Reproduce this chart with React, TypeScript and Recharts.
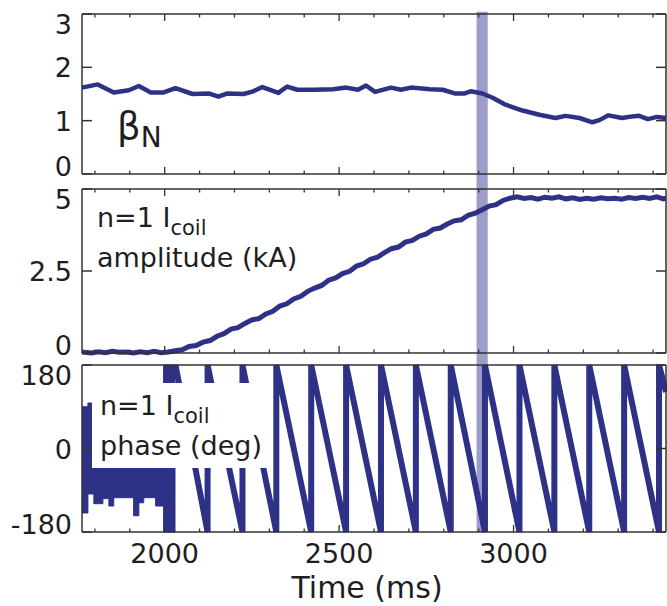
import React from 'react';
import { LineChart, ComposedChart, Line, Area, XAxis, YAxis, ReferenceArea } from 'recharts';

const W = 667;
const H = 606;
const MARGIN_LEFT = 81;
const MARGIN_RIGHT = 0;
const PLOT_RIGHT = W - MARGIN_RIGHT - 1;
const FONT = '"DejaVu Sans", sans-serif';
const LINE = '#2d3286';
const BAND = '#9d9dcb';
const FRAME = '#333333';
const TEXT = '#1e1e1e';

// shared time axis
const timeDomain: [number, number] = [1763, 3437];
const majorTimeTicks = [2000, 2500, 3000];
const timeTicks = [1800, 1900, 2000, 2100, 2200, 2300, 2400, 2500, 2600, 2700, 2800, 2900, 3000, 3100, 3200, 3300, 3400];
const bandStart = 2894;
const bandEnd = 2926;

// Panel 1: beta_N
const betaTicks = [0, 1, 2, 3];
const betaTimes = [1763, 1808, 1854, 1897, 1926, 1960, 1997, 2031, 2080, 2126, 2154, 2180, 2226, 2254, 2280, 2326, 2351, 2380, 2426, 2483, 2520, 2554, 2577, 2603, 2649, 2677, 2706, 2760, 2797, 2831, 2860, 2877, 2911, 2940, 2977, 3026, 3074, 3120, 3149, 3189, 3226, 3246, 3272, 3311, 3340, 3360, 3385, 3411, 3437];
const betaValues = [1.62, 1.68, 1.53, 1.57, 1.65, 1.53, 1.53, 1.61, 1.50, 1.51, 1.45, 1.51, 1.50, 1.55, 1.63, 1.52, 1.64, 1.58, 1.58, 1.59, 1.62, 1.58, 1.66, 1.54, 1.62, 1.58, 1.62, 1.59, 1.58, 1.51, 1.51, 1.55, 1.51, 1.43, 1.30, 1.19, 1.11, 1.05, 1.09, 1.05, 0.97, 1.01, 1.10, 1.05, 1.08, 1.09, 1.03, 1.07, 1.05];

// Panel 2: n=1 Icoil amplitude (kA)
const ampTicks = [0, 2.5, 5];
const ampTimes = [1763, 1770, 1790, 1810, 1830, 1850, 1870, 1890, 1910, 1930, 1950, 1970, 1990, 2010, 2030, 2050, 2070, 2090, 2110, 2130, 2150, 2170, 2190, 2210, 2230, 2250, 2270, 2290, 2310, 2330, 2350, 2370, 2390, 2410, 2430, 2450, 2470, 2490, 2510, 2530, 2550, 2570, 2590, 2610, 2630, 2650, 2670, 2690, 2710, 2730, 2750, 2770, 2790, 2810, 2830, 2850, 2870, 2890, 2910, 2930, 2950, 2970, 2990, 3010, 3030, 3050, 3070, 3090, 3110, 3130, 3150, 3170, 3190, 3210, 3230, 3250, 3270, 3290, 3310, 3330, 3350, 3370, 3390, 3410, 3430, 3437];
const ampValues = [0.03, 0.02, 0.00, 0.04, 0.01, 0.05, 0.02, 0.03, 0.00, 0.04, 0.01, 0.05, 0.01, 0.03, 0.07, 0.10, 0.20, 0.23, 0.33, 0.38, 0.51, 0.59, 0.73, 0.77, 0.90, 1.01, 1.05, 1.19, 1.27, 1.43, 1.50, 1.65, 1.73, 1.88, 1.98, 2.06, 2.22, 2.29, 2.42, 2.49, 2.65, 2.72, 2.86, 2.92, 3.06, 3.18, 3.23, 3.38, 3.43, 3.56, 3.63, 3.77, 3.81, 3.93, 4.03, 4.06, 4.20, 4.26, 4.37, 4.48, 4.52, 4.65, 4.72, 4.76, 4.71, 4.74, 4.69, 4.75, 4.72, 4.76, 4.70, 4.73, 4.68, 4.72, 4.69, 4.73, 4.70, 4.72, 4.69, 4.74, 4.71, 4.75, 4.71, 4.76, 4.70, 4.72];

// Panel 3: n=1 Icoil phase (deg)
const phaseTicks = [-180, 0, 180];
const noiseTimes = [1763, 1780, 1797, 1823, 1840, 1854, 1911, 1926, 1940, 1974, 1997, 2031];
const noiseLow = [-139, -98, -119, -108, -124, -106, -145, -117, -106, -124, -180, -180];
const noiseHigh = [90, 98, 98, 98, 98, 98, 98, 98, 98, 98, 180, 180];
const phaseStartTime = 2031;
const phaseJumpTimes = [2123, 2223, 2320, 2420, 2520, 2620, 2720, 2820, 2918, 3017, 3117, 3217, 3317, 3417];
const phaseEndTime = 3437;
const phaseEndValue = 122;

const betaData = betaTimes.map((t, i) => ({ t, v: betaValues[i] }));
const ampData = ampTimes.map((t, i) => ({ t, v: ampValues[i] }));
const noiseData = noiseTimes.map((t, i) => ({ t, r: [noiseLow[i], noiseHigh[i]] }));
const sawData: { t: number; v: number }[] = [{ t: phaseStartTime, v: 180 }];
phaseJumpTimes.forEach((t) => {
  sawData.push({ t, v: -180 });
  sawData.push({ t, v: 180 });
});
sawData.push({ t: phaseEndTime, v: phaseEndValue });

type Side = 'top' | 'bottom' | 'left';

// inward tick marks (MATLAB style) drawn at the positions recharts hands over
const makeTick = (side: Side, opts: { labels?: boolean; top?: number; bottom?: number } = {}) => (props: any) => {
  const { x, y, payload } = props;
  const v = payload.value as number;
  if (side === 'left') {
    const shift = v === opts.top ? 10 : v === opts.bottom ? -8 : 0;
    return (
      <g>
        <line x1={x} y1={y} x2={x + 10} y2={y} stroke={FRAME} strokeWidth={1.5} />
        <line x1={PLOT_RIGHT} y1={y} x2={PLOT_RIGHT - 10} y2={y} stroke={FRAME} strokeWidth={1.5} />
        <text x={x - 10} y={y + 10 + shift} textAnchor="end" fontFamily={FONT} fontSize={27} fill={TEXT}>
          {String(v)}
        </text>
      </g>
    );
  }
  const major = majorTimeTicks.includes(v);
  const len = major ? 7 : 3.5;
  const y2 = side === 'bottom' ? y - len : y + len;
  return (
    <g>
      <line x1={x} y1={y} x2={x} y2={y2} stroke={FRAME} strokeWidth={1.3} />
      {opts.labels && major ? (
        <text x={x} y={y + 31} textAnchor="middle" fontFamily={FONT} fontSize={27} fill={TEXT}>
          {String(v)}
        </text>
      ) : null}
    </g>
  );
};

const lineStyle = { stroke: FRAME, strokeWidth: 1.5 };

function frameAxes(yDomain: [number, number], yTicks: number[], xLabels: boolean) {
  return [
    <XAxis key="xb" xAxisId="b" dataKey="t" type="number" domain={timeDomain} ticks={timeTicks} interval={0}
      height={1} tickSize={0} tickMargin={0} tickLine={false} axisLine={lineStyle}
      tick={makeTick('bottom', { labels: xLabels })} />,
    <XAxis key="xt" xAxisId="t" dataKey="t" orientation="top" type="number" domain={timeDomain} ticks={timeTicks} interval={0}
      height={1} tickSize={0} tickMargin={0} tickLine={false} axisLine={lineStyle} tick={makeTick('top')} />,
    <YAxis key="yl" yAxisId="l" type="number" domain={yDomain} ticks={yTicks} interval={0}
      width={1} tickSize={0} tickMargin={0} tickLine={false} axisLine={lineStyle}
      tick={makeTick('left', { labels: true, top: yDomain[1], bottom: yDomain[0] })} />,
    <YAxis key="yr" yAxisId="r" orientation="right" type="number" domain={yDomain} ticks={yTicks} interval={0}
      width={1} tickSize={0} tickLine={false} axisLine={lineStyle} tick={false} />,
  ];
}

const abs: React.CSSProperties = { position: 'absolute', left: 0, top: 0 };

export default function App() {
  return (
    <div style={{ position: 'absolute', left: 0, top: 0, width: W, height: H, background: '#fff', overflow: 'hidden' }}>
      <div style={abs}>
        <LineChart width={W} height={H} data={betaData} margin={{ top: 13, right: MARGIN_RIGHT, bottom: 431, left: MARGIN_LEFT }}>
          {frameAxes([0, 3], betaTicks, false)}
          <ReferenceArea xAxisId="b" yAxisId="l" x1={bandStart} x2={bandEnd} y1={-0.3} y2={3.04}
            ifOverflow="visible" fill={BAND} fillOpacity={1} stroke="none" />
          <Line xAxisId="b" yAxisId="l" type="linear" dataKey="v" stroke={LINE} strokeWidth={4.5}
            dot={false} activeDot={false} isAnimationActive={false} strokeLinejoin="round" />
        </LineChart>
      </div>
      <div style={abs}>
        <LineChart width={W} height={H} data={ampData} margin={{ top: 188, right: MARGIN_RIGHT, bottom: 252, left: MARGIN_LEFT }}>
          {frameAxes([0, 5], ampTicks, false)}
          <ReferenceArea xAxisId="b" yAxisId="l" x1={bandStart} x2={bandEnd} y1={-0.37} y2={5}
            ifOverflow="visible" fill={BAND} fillOpacity={1} stroke="none" />
          <Line xAxisId="b" yAxisId="l" type="linear" dataKey="v" stroke={LINE} strokeWidth={5}
            dot={false} activeDot={false} isAnimationActive={false} />
        </LineChart>
      </div>
      <div style={abs}>
        <ComposedChart width={W} height={H} margin={{ top: 364, right: MARGIN_RIGHT, bottom: 73, left: MARGIN_LEFT }}>
          {frameAxes([-180, 180], phaseTicks, true)}
          <ReferenceArea xAxisId="b" yAxisId="l" x1={bandStart} x2={bandEnd} y1={-180} y2={180}
            ifOverflow="visible" fill={BAND} fillOpacity={1} stroke="none" />
          <Area xAxisId="b" yAxisId="l" data={noiseData} dataKey="r" type="stepAfter" stroke={LINE} strokeWidth={1}
            fill={LINE} fillOpacity={1} dot={false} activeDot={false} isAnimationActive={false} />
          <Line xAxisId="b" yAxisId="l" data={sawData} type="linear" dataKey="v" stroke={LINE} strokeWidth={6}
            dot={false} activeDot={false} isAnimationActive={false} />
        </ComposedChart>
      </div>
      <svg width={W} height={H} style={{ ...abs, pointerEvents: 'none' }}>
        <g fontFamily={FONT} fill={TEXT}>
          <text x={117} y={139} fontSize={37}>
            β<tspan fontSize={28} dy={8}>N</tspan>
          </text>
          <text x={97} y={227} fontSize={27}>
            n=1 I<tspan fontSize={21} dy={8}>coil</tspan>
          </text>
          <text x={97} y={267} fontSize={27}>amplitude (kA)</text>
          <rect x={92} y={383} width={176} height={85} fill="#ffffff" />
          <text x={100} y={415} fontSize={27}>
            n=1 I<tspan fontSize={21} dy={8}>coil</tspan>
          </text>
          <text x={100} y={455} fontSize={27}>phase (deg)</text>
          <text x={367} y={598} fontSize={30} textAnchor="middle">Time (ms)</text>
        </g>
      </svg>
    </div>
  );
}
